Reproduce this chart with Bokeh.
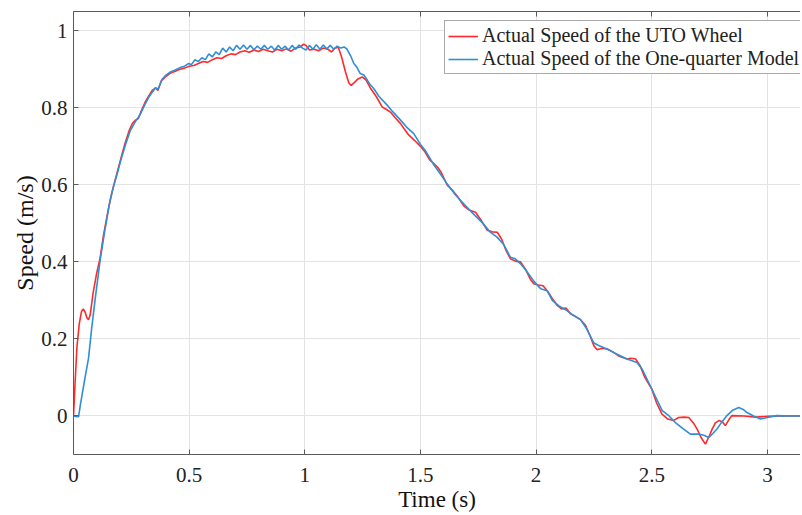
from bokeh.plotting import figure
from bokeh.models import LinearAxis, FixedTicker, Legend, LegendItem, CustomJSTickFormatter
from bokeh.embed import file_html
from bokeh.resources import INLINE

# Actual Speed of the UTO Wheel (red)
red_t = [0.000, 0.008, 0.015, 0.025, 0.035, 0.042, 0.050, 0.058, 0.065, 0.072, 0.085, 0.100,
         0.115, 0.130, 0.150, 0.170, 0.190, 0.210, 0.225, 0.240, 0.255, 0.268, 0.280, 0.295,
         0.310, 0.325, 0.340, 0.355, 0.365, 0.380, 0.400, 0.420, 0.440, 0.460, 0.480, 0.500,
         0.520, 0.540, 0.560, 0.580, 0.600, 0.620, 0.640, 0.660, 0.680, 0.700, 0.720, 0.740,
         0.760, 0.780, 0.800, 0.820, 0.840, 0.860, 0.880, 0.900, 0.920, 0.940, 0.960, 0.980,
         0.995, 1.005, 1.020, 1.040, 1.060, 1.080, 1.100, 1.115, 1.130, 1.145, 1.160, 1.175,
         1.190, 1.200, 1.215, 1.230, 1.248, 1.265, 1.285, 1.310, 1.335, 1.355, 1.370, 1.390,
         1.414, 1.430, 1.450, 1.475, 1.500, 1.520, 1.540, 1.558, 1.575, 1.590, 1.616, 1.640,
         1.660, 1.688, 1.710, 1.738, 1.760, 1.789, 1.810, 1.832, 1.850, 1.870, 1.889, 1.910,
         1.933, 1.955, 1.975, 1.990, 2.010, 2.030, 2.048, 2.070, 2.091, 2.110, 2.130, 2.149,
         2.170, 2.192, 2.214, 2.235, 2.250, 2.264, 2.285, 2.307, 2.330, 2.360, 2.393, 2.410,
         2.430, 2.450, 2.470, 2.500, 2.520, 2.544, 2.570, 2.594, 2.616, 2.640, 2.660, 2.680,
         2.696, 2.715, 2.732, 2.750, 2.761, 2.775, 2.790, 2.805, 2.818, 2.835, 2.847, 2.900,
         2.950, 3.000, 3.050, 3.100, 3.160]
red_v = [0.000, 0.100, 0.180, 0.240, 0.272, 0.278, 0.270, 0.255, 0.250, 0.262, 0.320, 0.370,
         0.410, 0.470, 0.535, 0.590, 0.635, 0.680, 0.712, 0.740, 0.760, 0.768, 0.772, 0.795,
         0.815, 0.830, 0.845, 0.852, 0.845, 0.870, 0.882, 0.890, 0.895, 0.900, 0.903, 0.908,
         0.910, 0.915, 0.920, 0.918, 0.925, 0.930, 0.928, 0.935, 0.940, 0.938, 0.945, 0.948,
         0.944, 0.950, 0.946, 0.952, 0.948, 0.945, 0.952, 0.948, 0.953, 0.947, 0.955, 0.958,
         0.965, 0.962, 0.950, 0.952, 0.948, 0.955, 0.952, 0.945, 0.955, 0.957, 0.930, 0.895,
         0.865, 0.858, 0.866, 0.875, 0.880, 0.872, 0.850, 0.828, 0.802, 0.795, 0.789, 0.775,
         0.759, 0.745, 0.729, 0.715, 0.700, 0.685, 0.665, 0.655, 0.645, 0.632, 0.599, 0.585,
         0.570, 0.545, 0.535, 0.529, 0.510, 0.482, 0.478, 0.477, 0.460, 0.430, 0.408, 0.402,
         0.400, 0.380, 0.355, 0.343, 0.340, 0.338, 0.325, 0.305, 0.287, 0.278, 0.280, 0.265,
         0.258, 0.250, 0.235, 0.205, 0.182, 0.172, 0.176, 0.174, 0.167, 0.155, 0.148, 0.150,
         0.148, 0.130, 0.100, 0.070, 0.035, 0.005, -0.008, -0.012, -0.004, -0.003, -0.004, -0.018,
         -0.034, -0.058, -0.073, -0.050, -0.034, -0.018, -0.012, -0.015, -0.025, -0.008, 0.001, 0.000,
         -0.003, -0.001, 0.000, 0.000, 0.000]

# Actual Speed of the One-quarter Model (blue)
blue_t = [0.000, 0.010, 0.022, 0.030, 0.050, 0.065, 0.079, 0.095, 0.115, 0.135, 0.158, 0.175,
          0.189, 0.205, 0.225, 0.245, 0.268, 0.280, 0.290, 0.310, 0.326, 0.340, 0.355, 0.365,
          0.383, 0.400, 0.419, 0.440, 0.463, 0.480, 0.498, 0.510, 0.525, 0.540, 0.555, 0.570,
          0.585, 0.600, 0.615, 0.630, 0.645, 0.660, 0.675, 0.690, 0.705, 0.720, 0.735, 0.750,
          0.765, 0.780, 0.795, 0.810, 0.825, 0.840, 0.855, 0.870, 0.885, 0.900, 0.915, 0.930,
          0.945, 0.960, 0.975, 0.990, 1.005, 1.020, 1.035, 1.050, 1.065, 1.080, 1.095, 1.110,
          1.125, 1.140, 1.155, 1.170, 1.183, 1.198, 1.212, 1.225, 1.240, 1.255, 1.270, 1.284,
          1.298, 1.320, 1.356, 1.380, 1.414, 1.440, 1.471, 1.500, 1.520, 1.558, 1.590, 1.616,
          1.650, 1.688, 1.720, 1.745, 1.770, 1.800, 1.830, 1.860, 1.889, 1.910, 1.933, 1.960,
          1.990, 2.020, 2.048, 2.070, 2.100, 2.130, 2.160, 2.192, 2.220, 2.249, 2.270, 2.307,
          2.350, 2.393, 2.436, 2.460, 2.500, 2.545, 2.575, 2.602, 2.635, 2.667, 2.703, 2.725,
          2.747, 2.765, 2.782, 2.800, 2.825, 2.850, 2.876, 2.895, 2.912, 2.940, 2.970, 3.000,
          3.040, 3.100, 3.160]
blue_v = [0.000, -0.001, -0.002, 0.030, 0.100, 0.150, 0.230, 0.310, 0.404, 0.480, 0.560, 0.600,
          0.629, 0.665, 0.705, 0.740, 0.765, 0.775, 0.785, 0.810, 0.828, 0.840, 0.852, 0.848,
          0.874, 0.885, 0.893, 0.898, 0.905, 0.908, 0.915, 0.912, 0.925, 0.920, 0.930, 0.925,
          0.940, 0.932, 0.945, 0.938, 0.955, 0.945, 0.958, 0.948, 0.962, 0.952, 0.963, 0.952,
          0.962, 0.951, 0.960, 0.952, 0.962, 0.952, 0.960, 0.950, 0.962, 0.952, 0.960, 0.950,
          0.962, 0.952, 0.963, 0.955, 0.950, 0.962, 0.952, 0.964, 0.952, 0.963, 0.953, 0.962,
          0.952, 0.960, 0.955, 0.958, 0.952, 0.935, 0.915, 0.905, 0.889, 0.885, 0.872, 0.859,
          0.850, 0.830, 0.807, 0.790, 0.768, 0.750, 0.733, 0.705, 0.690, 0.652, 0.625, 0.602,
          0.575, 0.550, 0.530, 0.515, 0.500, 0.478, 0.465, 0.445, 0.412, 0.408, 0.395, 0.375,
          0.350, 0.330, 0.325, 0.300, 0.285, 0.275, 0.262, 0.250, 0.225, 0.190, 0.183, 0.174,
          0.160, 0.148, 0.139, 0.120, 0.070, 0.014, 0.000, -0.017, -0.033, -0.047, -0.047, -0.050,
          -0.056, -0.045, -0.034, -0.018, 0.001, 0.015, 0.022, 0.017, 0.009, 0.000, -0.008, -0.004,
          0.001, 0.000, 0.000]

x_ticks = [0, 0.5, 1, 1.5, 2, 2.5, 3]
y_ticks = [0, 0.2, 0.4, 0.6, 0.8, 1]
series_names = ["Actual Speed of the UTO Wheel", "Actual Speed of the One-quarter Model"]

SERIF = "Liberation Serif"
AXIS_COL = "#5a5a5a"

p = figure(width=800, height=515, x_range=(0, 3.143), y_range=(-0.1, 1.05),
           output_backend="svg", toolbar_location=None,
           min_border_left=73, min_border_right=0, min_border_top=11, min_border_bottom=61)
p.outline_line_color = None
p.background_fill_color = "white"
p.border_fill_color = "white"

r_red = p.line(red_t, red_v, line_color="#ff2a2a", line_width=1.6)
r_blue = p.line(blue_t, blue_v, line_color="#2f8fd6", line_width=1.6)

for ax in (p.xaxis[0], p.yaxis[0]):
    ax.axis_line_color = AXIS_COL
    ax.major_tick_line_color = AXIS_COL
    ax.major_tick_in = 5
    ax.major_tick_out = 0
    ax.minor_tick_line_color = None
    ax.major_label_text_font = SERIF
    ax.major_label_text_font_size = "21px"
    ax.major_label_text_color = "#222222"
    ax.major_label_text_line_height = 1.0
    ax.axis_label_text_font = SERIF
    ax.axis_label_text_font_style = "normal"
    ax.axis_label_text_color = "#111111"
    ax.axis_label_text_line_height = 1.0

p.xaxis[0].axis_label_text_font_size = "23px"
p.yaxis[0].axis_label_text_font_size = "24px"
p.xaxis[0].ticker = FixedTicker(ticks=x_ticks)
p.yaxis[0].ticker = FixedTicker(ticks=y_ticks)
p.xaxis[0].axis_label = "Time (s)"
p.yaxis[0].axis_label = "Speed (m/s)"
p.xaxis[0].major_label_standoff = 13
p.xaxis[0].axis_label_standoff = 2
p.yaxis[0].major_label_standoff = 6
p.yaxis[0].axis_label_standoff = 0

top = LinearAxis(ticker=FixedTicker(ticks=x_ticks), axis_line_color=AXIS_COL,
                 major_tick_line_color=AXIS_COL, major_tick_in=5, major_tick_out=0,
                 minor_tick_line_color=None,
                 formatter=CustomJSTickFormatter(code="return '';"),
                 major_label_standoff=0)
p.add_layout(top, "above")

p.xgrid.ticker = FixedTicker(ticks=x_ticks)
p.ygrid.ticker = FixedTicker(ticks=y_ticks)
p.grid.grid_line_color = "#e3e3e3"
p.grid.grid_line_width = 1

legend = Legend(items=[LegendItem(label=series_names[0], renderers=[r_red]),
                       LegendItem(label=series_names[1], renderers=[r_blue])],
                location=(371, 380))
legend.label_text_font = SERIF
legend.label_text_font_size = "20px"
legend.label_text_color = "#222222"
legend.glyph_width = 30
legend.glyph_height = 22
legend.label_height = 22
legend.label_standoff = 4
legend.spacing = 0
legend.padding = 3
legend.margin = 0
legend.border_line_color = "#555555"
legend.border_line_width = 1
legend.background_fill_alpha = 1
p.add_layout(legend, "center")

open("out.html", "w").write(file_html(p, INLINE))
